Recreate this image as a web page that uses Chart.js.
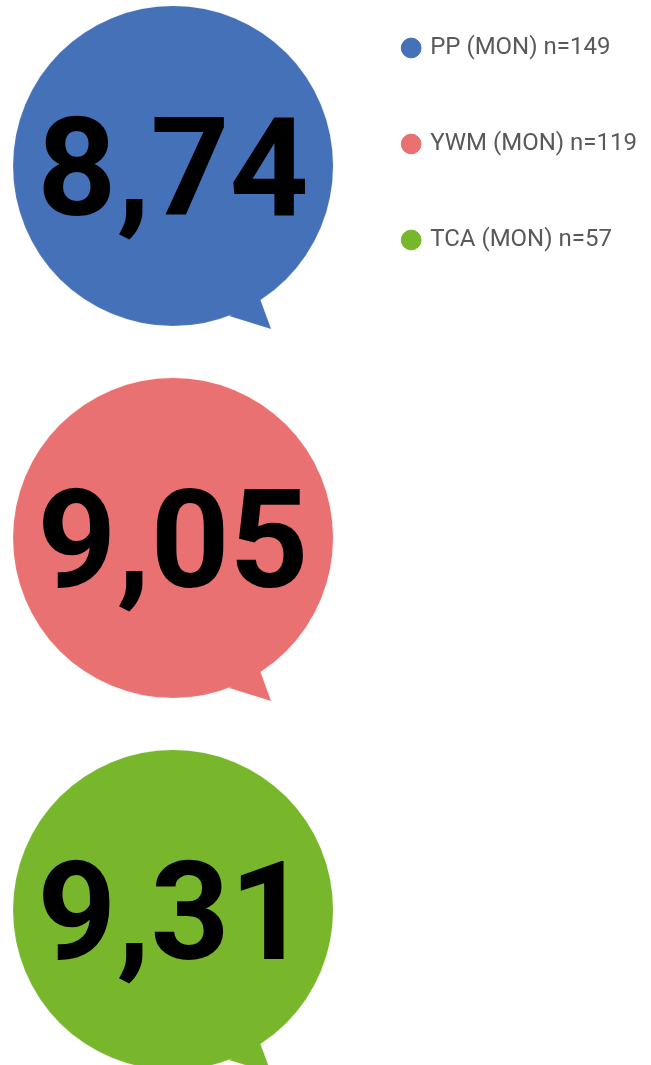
<!DOCTYPE html>
<html>
<head>
<meta charset="utf-8">
<script src="https://cdn.jsdelivr.net/npm/chart.js@4.4.1/dist/chart.umd.min.js"></script>
<style>
  html, body { margin: 0; padding: 0; background: #fff; }
</style>
</head>
<body>
<canvas id="myChart" width="651" height="1065"></canvas>
<script>
// groups shown in the legend, one bubble each
const groups = ['PP (MON) n=149', 'YWM (MON) n=119', 'TCA (MON) n=57'];
const scores = [8.74, 9.05, 9.31];
const colors = ['#4571B8', '#E97171', '#78B72B'];

// speech bubble image used as the point style
function makeBubble(color) {
    const c = document.createElement('canvas');
    c.width = 340;
    c.height = 340;
    const g = c.getContext('2d');
    g.fillStyle = color;
    g.beginPath();
    g.arc(170, 170, 160, 0, Math.PI * 2);
    g.fill();
    // tail, bottom right
    g.beginPath();
    g.moveTo(170 + 56, 170 + 150);
    g.lineTo(170 + 98, 170 + 163);
    g.lineTo(170 + 87, 170 + 133);
    g.closePath();
    g.fill();
    return c;
}

// big number in the middle of each bubble
const scoreLabels = {
    id: 'scoreLabels',
    afterDatasetsDraw(chart) {
        const ctx = chart.ctx;
        ctx.save();
        ctx.font = 'bold 138px Roboto';
        ctx.fillStyle = '#000';
        ctx.textAlign = 'center';
        ctx.textBaseline = 'alphabetic';
        scores.forEach((s, i) => {
            const pt = chart.getDatasetMeta(i).data[0];
            ctx.fillText(s.toFixed(2).replace('.', ','), pt.x, pt.y + 49);
        });
        ctx.restore();
    }
};

const datasets = groups.map((g, i) => ({
    label: g,
    data: [{x: 0, y: i}],
    backgroundColor: colors[i],
    borderColor: colors[i],
    pointStyle: makeBubble(colors[i]),
    pointRadius: 160,
    clip: false
}));

const myChart = new Chart(document.getElementById('myChart'), {
    type: 'scatter',
    data: {datasets: datasets},
    plugins: [scoreLabels],
    options: {
        responsive: false,
        animation: false,
        events: [],
        layout: {autoPadding: false, padding: {top: -36, right: 4, left: 0, bottom: 0}},
        scales: {
            x: {type: 'linear', display: false, min: -1, max: 0.92},
            y: {type: 'linear', display: false, reverse: true, min: -0.446, max: 2.417}
        },
        plugins: {
            tooltip: {enabled: false},
            legend: {
                position: 'right',
                align: 'start',
                labels: {
                    usePointStyle: true,
                    pointStyle: 'circle',
                    boxWidth: 14,
                    boxHeight: 14,
                    padding: 72,
                    color: '#595959',
                    font: {family: 'Roboto', size: 24}
                }
            }
        }
    }
});
</script>
</body>
</html>
